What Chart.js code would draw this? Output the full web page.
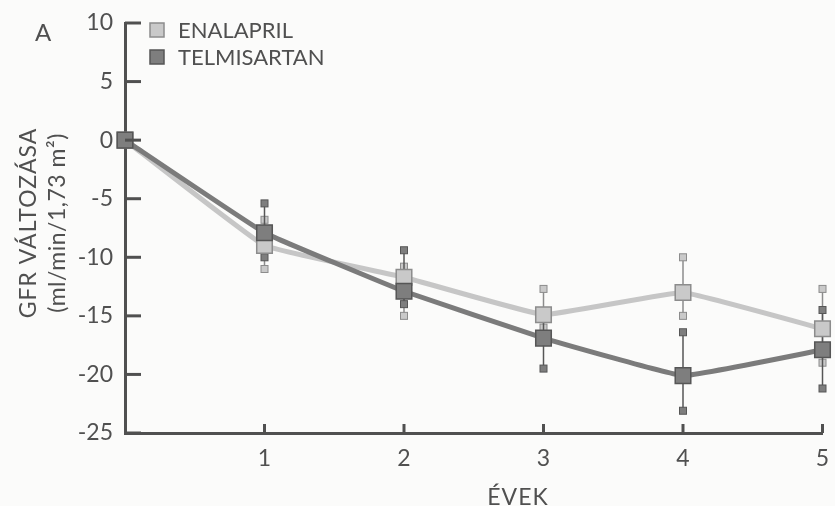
<!DOCTYPE html>
<html>
<head>
<meta charset="utf-8">
<script src="https://cdn.jsdelivr.net/npm/chart.js@4.4.0/dist/chart.umd.min.js"></script>
<style>
  html, body { margin: 0; padding: 0; background: #fbfbfa; }
  #wrap { width: 835px; height: 506px; }
</style>
</head>
<body>
<div id="wrap"><canvas id="chart-a" width="835" height="506"></canvas></div>
<script>
// years of follow-up
var years = [0, 1, 2, 3, 4, 5];

// GFR change, mean and whisker ends
var enalapril_mean = [0, -9.0, -11.7, -14.9, -13.0, -16.1];
var enalapril_high = [0, -6.8, -10.8, -12.7, -10.0, -12.7];
var enalapril_low  = [0, -11.0, -15.0, -16.0, -15.0, -19.0];

var telmisartan_mean = [0, -7.9, -12.9, -16.9, -20.1, -17.9];
var telmisartan_high = [0, -5.4, -9.4, -14.8, -16.4, -14.5];
var telmisartan_low  = [0, -10.0, -14.0, -19.5, -23.1, -21.2];

var y_ticks = [10, 5, 0, -5, -10, -15, -20, -25];
var x_ticks = [1, 2, 3, 4, 5];

var series_labels = ["ENALAPRIL", "TELMISARTAN"];
var y_title = ["GFR VÁLTOZÁSA", "(ml/min/1,73 m²)"];
var x_title = "ÉVEK";
var panel_label = "A";

var light_line = "#c6c6c6";
var light_fill = "#c9c9c9";
var light_edge = "#8c8c8c";
var dark_line = "#7b7b7b";
var dark_fill = "#7e7e7e";
var dark_edge = "#565656";
var ink = "#505050";
var font_family = "Lato, 'Noto Sans', sans-serif";

function toPoints(xs, ys) {
    var pts = [];
    for (let i = 0; i < xs.length; i++) {
        pts.push({ x: xs[i], y: ys[i] });
    }
    return pts;
}

// whiskers with small squares at both ends
var errorBars = {
    id: "errorBars",
    beforeDatasetsDraw: function(chart) {
        const ctx = chart.ctx;
        const xs = chart.scales.x;
        const ys = chart.scales.y;
        const sets = [
            { hi: enalapril_high, lo: enalapril_low, fill: light_fill, edge: light_edge },
            { hi: telmisartan_high, lo: telmisartan_low, fill: dark_fill, edge: dark_edge },
        ];
        ctx.save();
        sets.forEach(function(s) {
            for (let i = 1; i < years.length; i++) {
                const px = xs.getPixelForValue(years[i]);
                const top = ys.getPixelForValue(s.hi[i]);
                const bot = ys.getPixelForValue(s.lo[i]);
                ctx.strokeStyle = s.edge;
                ctx.lineWidth = 1.5;
                ctx.beginPath();
                ctx.moveTo(px, top);
                ctx.lineTo(px, bot);
                ctx.stroke();
                [top, bot].forEach(function(py) {
                    ctx.fillStyle = s.fill;
                    ctx.fillRect(px - 3.5, py - 3.5, 7, 7);
                    ctx.lineWidth = 1;
                    ctx.strokeRect(px - 3.5, py - 3.5, 7, 7);
                });
            }
        });
        ctx.restore();
    },
};

// inward tick marks, legend, axis titles, panel letter
var decorations = {
    id: "decorations",
    beforeDraw: function(chart) {
        const ctx = chart.ctx;
        ctx.save();
        ctx.fillStyle = "#fbfbfa";
        ctx.fillRect(0, 0, chart.width, chart.height);
        ctx.restore();
    },
    afterDraw: function(chart) {
        const ctx = chart.ctx;
        const area = chart.chartArea;
        const xs = chart.scales.x;
        const ys = chart.scales.y;
        ctx.save();
        ctx.strokeStyle = ink;
        ctx.lineWidth = 3;
        y_ticks.forEach(function(v) {
            const py = ys.getPixelForValue(v);
            ctx.beginPath();
            ctx.moveTo(area.left, py);
            ctx.lineTo(area.left + 16, py);
            ctx.stroke();
        });
        x_ticks.forEach(function(v) {
            const px = xs.getPixelForValue(v);
            ctx.beginPath();
            ctx.moveTo(px, area.bottom);
            ctx.lineTo(px, area.bottom - 9);
            ctx.stroke();
        });

        // legend
        const rows = [
            { text: series_labels[0], fill: light_fill, edge: light_edge, y: 30 },
            { text: series_labels[1], fill: dark_fill, edge: dark_edge, y: 57 },
        ];
        ctx.font = "22px " + font_family;
        ctx.textBaseline = "middle";
        ctx.textAlign = "left";
        rows.forEach(function(r) {
            ctx.fillStyle = r.fill;
            ctx.fillRect(150, r.y - 7, 14, 14);
            ctx.strokeStyle = r.edge;
            ctx.lineWidth = 1.5;
            ctx.strokeRect(150, r.y - 7, 14, 14);
            ctx.fillStyle = ink;
            ctx.fillText(r.text, 178, r.y + 1);
        });

        // panel letter
        ctx.font = "24px " + font_family;
        ctx.fillText(panel_label, 35, 33);

        // x title
        ctx.textAlign = "center";
        ctx.font = "23px " + font_family;
        ctx.letterSpacing = "1px";
        ctx.fillText(x_title, 518, 498);

        // y title, rotated
        ctx.translate(0, 223);
        ctx.rotate(-Math.PI / 2);
        ctx.font = "23px " + font_family;
        ctx.letterSpacing = "1px";
        ctx.fillText(y_title[0], 0, 29);
        ctx.letterSpacing = "0.5px";
        ctx.fillText(y_title[1], 0, 58);
        ctx.restore();
    },
};

const ctx = document.getElementById("chart-a").getContext("2d");
const myChart = new Chart(ctx, {
    type: "line",
    data: {
        datasets: [{
            label: series_labels[0],
            data: toPoints(years, enalapril_mean),
            borderColor: light_line,
            backgroundColor: light_fill,
            pointBorderColor: light_edge,
            borderWidth: 5,
            pointStyle: "rect",
            pointRadius: 11,
            pointBorderWidth: 1.5,
            tension: 0.08,
            order: 2,
        }, {
            label: series_labels[1],
            data: toPoints(years, telmisartan_mean),
            borderColor: dark_line,
            backgroundColor: dark_fill,
            pointBorderColor: dark_edge,
            borderWidth: 5,
            pointStyle: "rect",
            pointRadius: 11,
            pointBorderWidth: 1.5,
            tension: 0.08,
            order: 1,
        }],
    },
    options: {
        responsive: false,
        animation: false,
        clip: false,
        layout: {
            padding: { top: 23, right: 5, left: 0, bottom: 0 },
        },
        plugins: {
            legend: { display: false },
            tooltip: { enabled: false },
        },
        scales: {
            x: {
                type: "linear",
                min: 0,
                max: 5,
                afterFit: function(scale) {
                    scale.height = 73;
                    scale.paddingLeft = 0;
                    scale.paddingRight = 0;
                },
                afterBuildTicks: function(scale) {
                    scale.ticks = x_ticks.map(function(v) { return { value: v }; });
                },
                ticks: {
                    color: ink,
                    font: { size: 23, family: font_family },
                    padding: 12,
                    maxRotation: 0,
                },
                grid: { display: false, drawTicks: false },
                border: { color: ink, width: 3 },
            },
            y: {
                min: -25,
                max: 10,
                afterFit: function(scale) {
                    scale.width = 125;
                    scale.paddingTop = 0;
                    scale.paddingBottom = 0;
                },
                afterBuildTicks: function(scale) {
                    scale.ticks = y_ticks.map(function(v) { return { value: v }; });
                },
                ticks: {
                    color: ink,
                    font: { size: 23, family: font_family },
                    padding: 12,
                },
                grid: { display: false, drawTicks: false },
                border: { color: ink, width: 3 },
            },
        },
    },
    plugins: [errorBars, decorations],
});
</script>
</body>
</html>
